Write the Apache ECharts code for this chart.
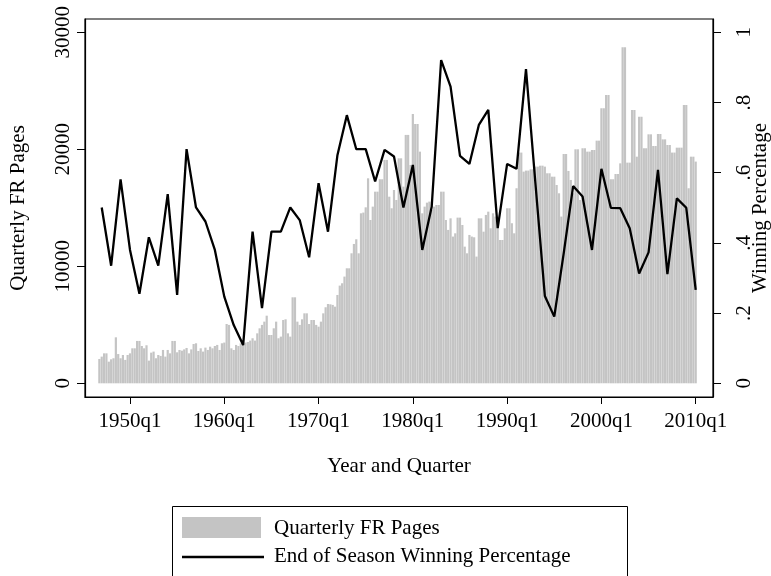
<!DOCTYPE html>
<html><head><meta charset="utf-8">
<script src="https://cdn.jsdelivr.net/npm/echarts@6/dist/echarts.min.js"></script>
<style>html,body{margin:0;padding:0;background:#fff}#c{width:771px;height:576px}</style>
</head><body><div id="c"></div>
<script>
// Quarterly series starts at 1946q4
const firstYear = 1946, firstQuarter = 4;
const frPages = [
 2080,
 2280,2560,2560,1850, 2050,2140,3930,2500, 2140,2420,2000,2420, 2560,2990,2990,3620,
 3620,3190,2990,3250, 1940,2620,2710,2140, 2420,2340,2850,2280, 2850,2560,3620,3620,
 2650,2850,2790,2900, 3020,2560,2900,3360, 3420,2760,2990,2710, 3050,2850,3130,2990,
 3190,3280,2850,3420, 3480,5070,4990,2990, 2850,3280,3190,3420, 3420,3480,3530,3650,
 3850,3650,4270,4700, 4990,5270,5780,4130, 4130,4700,5270,3850, 3990,5410,5470,4270,
 3990,7350,7350,5270, 4990,5470,5980,5980, 5070,5410,5410,4990, 4840,5270,5980,6500,
 6780,6750,6700,6550, 7550,8350,8550,9120, 9830,9830,11110,11910, 12310,11110,14530,14590,
 15040,17520,13960,15100, 16380,16380,17440,17440, 19090,19090,15950,14960, 16520,15670,19230,19230,
 16810,21230,21230,18660, 23020,22170,22170,19800, 14530,15100,15440,15530, 14810,15100,15240,15240,
 16380,16380,13960,13110, 14100,12540,12820,14160, 14160,13530,11680,11110, 12680,12540,12480,10830,
 14100,14100,12960,14390, 14670,13250,14530,14250, 13390,12250,12250,13250, 14960,14960,13680,12820,
 16670,19720,19720,18090, 18180,18180,18290,18290, 18520,18520,18600,18600, 18520,17950,17950,17660,
 17660,16950,16240,14250, 19600,19600,18150,17380, 16240,20000,20000,15670, 20090,20090,19800,19800,
 19940,19940,20740,20740, 23500,23500,24640,24640, 17440,17440,17890,17890, 18800,28720,28720,18860,
 18860,23360,23360,19370, 22790,22790,20090,20090, 21280,21280,20280,20280, 21310,21310,20850,20850,
 20370,20370,19720,19720, 20140,20140,20140,23790, 23790,16670,19370,19370,
 18950
];
const seasonYears = [];
for (let y = 1947; y <= 2010; y++) seasonYears.push(y);
const winPct = [
 .501,.335,.581,.380,.255,.416,.335,.539,.252,.667,
 .501,.461,.380,.247,.166,.109,.432,.214,.432,.432,
 .501,.465,.359,.570,.432,.650,.764,.667,.667,.575,
 .665,.646,.501,.622,.380,.503,.921,.845,.648,.625,
 .736,.779,.442,.625,.611,.895,.570,.249,.190,.370,
 .562,.532,.380,.611,.500,.499,.442,.313,.373,.608,
 .311,.527,.500,.266
];
const xTickYears = [1950,1960,1970,1980,1990,2000,2010];
const leftTicks = [0,10000,20000,30000];
const rightTicks = [0,0.2,0.4,0.6,0.8,1];
const legendNames = ['Quarterly FR Pages','End of Season Winning Percentage'];

const barData = frPages.map((v,i)=>{
  const qi = (firstQuarter-1) + i;
  return [firstYear + Math.floor(qi/4) + (qi%4)/4, v];
});
const lineData = seasonYears.map((y,i)=>[y, winPct[i]]);

const FONT = 'Liberation Serif';
const FS = 21;
const BAR = '#c4c4c4';
const chart = echarts.init(document.getElementById('c'), null, {renderer:'canvas'});
chart.setOption({
  animation:false,
  backgroundColor:'#fff',
  textStyle:{fontFamily:FONT,color:'#000'},
  grid:{left:85,right:58,top:19,bottom:179,containLabel:false,outerBoundsMode:'none',show:true,borderColor:'#000',borderWidth:1.2,backgroundColor:'#fff'},
  xAxis:{
    type:'value', min:1945.227, max:2011.835,
    name:'Year and Quarter', nameLocation:'middle', nameGap:59, nameMoveOverlap:false,
    nameTextStyle:{fontFamily:FONT,fontSize:FS,color:'#000'},
    axisLine:{show:true,onZero:false,lineStyle:{color:'#000',width:1.2}},
    axisTick:{show:true,length:7,customValues:xTickYears,lineStyle:{color:'#000'}},
    axisLabel:{customValues:xTickYears,formatter:v=>Math.round(v)+'q1',fontFamily:FONT,fontSize:FS,color:'#000',margin:14},
    splitLine:{show:false}
  },
  yAxis:[{
    type:'value', min:-1171, max:31137, position:'left',
    name:'Quarterly FR Pages', nameLocation:'middle', nameGap:56, nameMoveOverlap:false,
    nameTextStyle:{fontFamily:FONT,fontSize:FS,color:'#000'},
    axisLine:{show:true,lineStyle:{color:'#000',width:1.2}},
    axisTick:{show:true,length:8,customValues:leftTicks,lineStyle:{color:'#000'}},
    axisLabel:{customValues:leftTicks,rotate:90,fontFamily:FONT,fontSize:FS,color:'#000',margin:11,formatter:v=>String(Math.round(v))},
    splitLine:{show:false}
  },{
    type:'value', min:-0.039, max:1.0379, position:'right',
    name:'Winning Percentage', nameLocation:'middle', nameGap:37, nameRotate:90, nameMoveOverlap:false,
    nameTextStyle:{fontFamily:FONT,fontSize:FS,color:'#000'},
    axisLine:{show:true,lineStyle:{color:'#000',width:1.2}},
    axisTick:{show:true,length:8,customValues:rightTicks,lineStyle:{color:'#000'}},
    axisLabel:{customValues:rightTicks,rotate:90,fontFamily:FONT,fontSize:FS,color:'#000',margin:21,
      formatter:v=>{ if (Math.abs(v)<1e-9) return '0'; if (Math.abs(v-1)<1e-9) return '1'; return '.'+Math.round(v*10); }},
    splitLine:{show:false}
  }],
  graphic:[
    {type:'rect',shape:{x:172.5,y:506.5,width:455,height:100},style:{fill:'#fff',stroke:'#000',lineWidth:1},silent:true},
    {type:'rect',shape:{x:182,y:517,width:79,height:21},style:{fill:BAR},silent:true},
    {type:'text',x:274,y:528,style:{text:legendNames[0],font:FS+'px "Liberation Serif"',fill:'#000',verticalAlign:'middle'},silent:true},
    {type:'line',shape:{x1:182,y1:557,x2:264,y2:557},style:{stroke:'#000',lineWidth:2.3},silent:true},
    {type:'text',x:274,y:556,style:{text:legendNames[1],font:FS+'px "Liberation Serif"',fill:'#000',verticalAlign:'middle'},silent:true}
  ],
  series:[{
    name:legendNames[0], type:'bar', data:barData, yAxisIndex:0,
    barWidth:2.2, itemStyle:{color:BAR}, emphasis:{disabled:true}
  },{
    name:legendNames[1], type:'line', data:lineData, yAxisIndex:1,
    symbol:'none', lineStyle:{color:'#000',width:2.3}, itemStyle:{color:'#000'}, emphasis:{disabled:true}
  }]
});
</script></body></html>
